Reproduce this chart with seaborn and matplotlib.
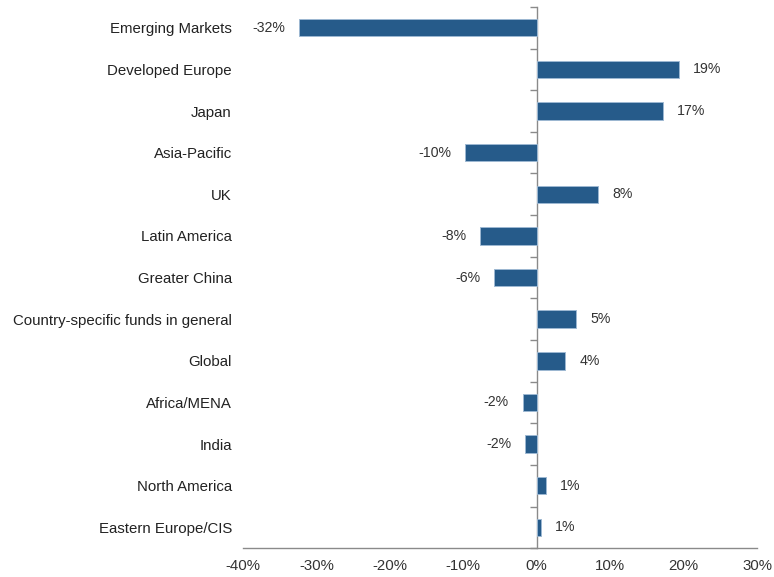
import matplotlib
matplotlib.use("Agg")
import matplotlib.pyplot as plt
import numpy as np
import pandas as pd
import seaborn as sns

regions = [
    "Emerging Markets", "Developed Europe", "Japan", "Asia-Pacific", "UK",
    "Latin America", "Greater China", "Country-specific funds in general",
    "Global", "Africa/MENA", "India", "North America", "Eastern Europe/CIS",
]
change_pct = [-32.4, 19.4, 17.2, -9.7, 8.4, -7.7, -5.8, 5.4, 3.9, -1.9, -1.6, 1.2, 0.6]
x_ticks = [-40, -30, -20, -10, 0, 10, 20, 30]

df = pd.DataFrame({"region": regions, "change": change_pct})

sns.set_theme(style="white")
plt.rcParams["font.family"] = ["Liberation Sans", "DejaVu Sans"]

fig = plt.figure(figsize=(7.74, 5.77), dpi=100)
ax = fig.add_axes([0.314, 0.050, 0.664, 0.938])

sns.barplot(data=df, x="change", y="region", orient="h", width=0.42,
            color="#265B8A", edgecolor="#9db8d2", linewidth=0.7,
            saturation=1, ax=ax)

ax.set_xlim(-40, 30)
ax.set_ylim(len(regions) - 0.5, -0.5)
ax.set_xticks(x_ticks)
ax.set_xticklabels([f"{t}%" for t in x_ticks], fontsize=10.8, color="#333333")
ax.tick_params(axis="x", direction="out", length=5, width=1, color="#8a8a8a", pad=3)
ax.tick_params(axis="y", length=0, pad=8, labelsize=10.8, labelcolor="#222222")
ax.set_xlabel("")
ax.set_ylabel("")

for side in ["top", "right", "left"]:
    ax.spines[side].set_visible(False)
ax.spines["bottom"].set_color("#8a8a8a")
ax.spines["bottom"].set_linewidth(1)

# vertical axis through zero with ticks between categories
zero_frac = (0 - x_ticks[0]) / (x_ticks[-1] - x_ticks[0])
sec = ax.secondary_yaxis(zero_frac)
sec.set_alignment("left")
sec.set_yticks(np.arange(len(regions) + 1) - 0.5)
sec.set_yticklabels([])
sec.tick_params(axis="y", direction="out", length=5, width=1, color="#8a8a8a")
for sp in sec.spines.values():
    sp.set_color("#8a8a8a")
    sp.set_linewidth(1)

ax.bar_label(ax.containers[0], labels=[f"{v:.0f}%" for v in change_pct],
             padding=10, fontsize=10.2, color="#333333")

fig.savefig("out.png", dpi=100)
